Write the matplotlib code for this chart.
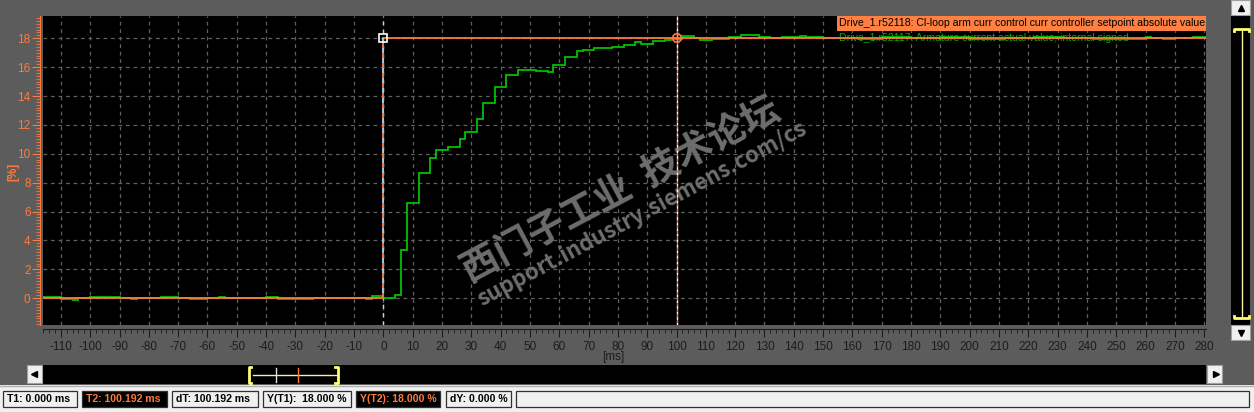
import numpy as np
import matplotlib.pyplot as plt
from matplotlib.patches import Rectangle
from matplotlib.lines import Line2D
from matplotlib.ticker import MultipleLocator

plt.rcParams['font.family'] = ['Liberation Sans', 'DejaVu Sans']
plt.rcParams['axes.unicode_minus'] = False

W, H = 1254, 412
ORANGE = '#ff7a3d'
GREEN = '#00c000'
GRAY = '#5c5c5c'

# r52117 armature current actual value: step edges [ms] and value per step [%]
ist_t = [-116.1, -110, -106, -104, -100, -90, -86, -84, -76, -70, -66, -60, -56, -54,
         -40, -36, -24, -6, -4, 0, 4, 6, 8, 12, 16, 18, 22, 26, 28, 32, 34, 38, 42,
         46, 52, 56, 58, 62, 66, 68, 72, 78, 82, 86, 88, 92, 96, 98, 102, 106, 108,
         112, 118, 122, 128, 132, 136, 142, 144, 150, 156, 162, 170, 180, 190, 200,
         212, 222, 232, 242, 252, 260, 262, 266, 270, 276, 280.5]
ist_v = [0.07, -0.07, -0.14, 0, 0.07, 0, -0.07, 0, 0.07, 0, -0.07, 0, 0.07, 0,
         0.07, -0.07, 0, -0.07, 0.14, 0, 0.21, 3.33, 6.58, 8.66, 9.70, 10.25, 10.46,
         11.04, 11.50, 12.40, 13.51, 14.62, 15.45, 15.80, 15.73, 15.66, 16.14, 16.70,
         17.11, 17.18, 17.30, 17.39, 17.53, 17.74, 17.60, 17.81, 17.88, 17.97, 18.13,
         18.05, 17.86, 17.93, 18.12, 18.23, 18.12, 18.0, 18.07, 18.16, 18.07, 18.0,
         18.05, 17.95, 18.1, 18.0, 18.07, 17.95, 18.05, 18.1, 18.0, 17.95, 17.93,
         18.07, 18.0, 17.93, 18.0, 18.12]

# r52118 current controller setpoint
soll_t = [-116.1, 0, 280.5]
soll_v = [0, 18]

# cursors
t1, t2 = 0.0, 100.192
y1, y2 = 18.0, 18.0

leg_soll = "Drive_1.r52118: Cl-loop arm curr control curr controller setpoint absolute value"
leg_ist = "Drive_1.r52117: Armature current actual value, internal signed"

status_txt = [f"T1: {t1:.3f} ms", f"T2: {t2:.3f} ms", f"dT: {t2 - t1:.3f} ms",
              f"Y(T1):  {y1:.3f} %", f"Y(T2): {y2:.3f} %", f"dY: {y2 - y1:.3f} %", ""]
status_x = [(3, 77), (82, 167), (172, 258), (263, 351), (356, 440), (446, 511), (516, 1249)]
status_dark = [1, 4]


def fx(x):
    return x / W


def fy(y):
    return 1 - y / H


def rect(x0, y0, x1, y1, **kw):
    fig.add_artist(Rectangle((fx(x0), fy(y1)), (x1 - x0) / W, (y1 - y0) / H,
                             transform=fig.transFigure, **kw))


def fline(xs, ys, **kw):
    fig.add_artist(Line2D([fx(v) for v in xs], [fy(v) for v in ys],
                          transform=fig.transFigure, **kw))


fig = plt.figure(figsize=(W / 100, H / 100), dpi=100, facecolor=GRAY)
ax = fig.add_axes([fx(43), fy(324.7), (1205.7 - 43) / W, (324.7 - 16) / H])
ax.set_facecolor('black')

ax.stairs(ist_v, ist_t, baseline=None, color=GREEN, lw=1.3, zorder=4)
ax.stairs(soll_v, soll_t, baseline=None, color=ORANGE, lw=1.3, zorder=5)

# cursor T1
ax.axvline(t1, color='#d0d0d0', ls=(0, (3, 3)), lw=1, zorder=3)
ax.plot([t1, t1], [0, y1], color='#9fd0f0', ls=(3, (3, 3)), lw=1.2, zorder=6)
ax.plot(t1, y1, marker='s', mfc='none', mec='white', ms=6, mew=1.2, zorder=7)
# cursor T2
ax.axvline(t2, color='white', ls=(0, (2, 2)), lw=1, zorder=6)
ax.axvline(t2, color=ORANGE, ls=(2, (2, 2)), lw=1, zorder=6)
ax.plot(t2, y2, marker='8', mfc='none', mec=ORANGE, ms=7, mew=1.2, zorder=7)
ax.plot(t2, y2, marker='+', color=ORANGE, ms=5, mew=1, zorder=7)

ax.set_xlim(-116.1, 280.5)
ax.set_ylim(-1.83, 19.54)
ax.xaxis.set_major_locator(MultipleLocator(10))
ax.xaxis.set_minor_locator(MultipleLocator(2))
ax.yaxis.set_major_locator(MultipleLocator(2))
ax.yaxis.set_minor_locator(MultipleLocator(0.2))
ax.grid(which='major', color='#606060', ls=(0, (3, 3)), lw=0.9, zorder=1)
ax.set_axisbelow(True)

for s in ['top', 'right']:
    ax.spines[s].set_visible(False)
ax.spines['left'].set_color(ORANGE)
ax.spines['left'].set_position(('outward', 2))
ax.spines['bottom'].set_color('#1c1c1c')
ax.spines['bottom'].set_position(('outward', 3))
ax.tick_params(axis='y', which='major', length=6, color=ORANGE, labelcolor=ORANGE,
               labelsize=8.5, pad=1)
ax.tick_params(axis='y', which='minor', length=3, color=ORANGE)
ax.tick_params(axis='x', which='major', length=6, color='#1c1c1c', labelcolor='#1c1c1c',
               labelsize=8.5, pad=3)
ax.tick_params(axis='x', which='minor', length=3, color='#1c1c1c')

fig.text(fx(613), fy(357), "[ms]", ha='center', va='center', fontsize=8.5, color='#1c1c1c')
fig.text(fx(13), fy(172), "[%]", ha='center', va='center', rotation=90, fontsize=8.5,
         color=ORANGE, fontweight='bold')

# legend
rect(837, 16, 1206, 31, facecolor='#ff8040', edgecolor='none', zorder=5)
fig.text(fx(839), fy(23.5), leg_soll, ha='left', va='center', fontsize=7.55, color='black', zorder=6)
ax.text(fx(839), fy(38), leg_ist, transform=fig.transFigure, ha='left', va='center',
        fontsize=7.55, color='#00b000', zorder=2)

# watermark
wm = dict(transform=fig.transFigure, ha='center', va='center', rotation=28,
          rotation_mode='anchor', color='#6e6e6e', fontweight='bold', zorder=3,
          family=['Noto Sans CJK SC', 'DejaVu Sans'])
ax.text(fx(620), fy(190), "西门子工业  技术论坛", fontsize=27, **wm)
ax.text(fx(642), fy(214), "support.industry.siemens.com/cs", fontsize=16, **wm)

# horizontal scrollbar
rect(43, 365, 1206, 384, facecolor='black', edgecolor='none')
rect(27, 365, 42, 383, facecolor='#f0f0f0', edgecolor='#a0a0a0', lw=0.8)
rect(1207, 365, 1222, 383, facecolor='#f0f0f0', edgecolor='#a0a0a0', lw=0.8)
fline([33.5], [374], marker='<', color='black', ms=4, ls='none')
fline([1215.5], [374], marker='>', color='black', ms=4, ls='none')
fline([253, 337], [375, 375], color='#f5efa0', lw=1)
fline([251, 249, 249, 251], [367, 367, 383, 383], color='#ffff70', lw=2)
fline([335, 338, 338, 335], [367, 367, 383, 383], color='#ffff70', lw=2)
fline([276, 276], [368, 382], color='#e0e0e0', lw=1)
fline([298, 298], [368, 382], color=ORANGE, lw=1)

# vertical scrollbar
rect(1231, 15, 1250, 325, facecolor='black', edgecolor='none')
rect(1231, 0, 1250, 15, facecolor='#f0f0f0', edgecolor='#a0a0a0', lw=0.8)
rect(1231, 325, 1250, 340, facecolor='#f0f0f0', edgecolor='#a0a0a0', lw=0.8)
fline([1241], [7.5], marker='^', color='black', ms=4, ls='none')
fline([1241], [332.5], marker='v', color='black', ms=4, ls='none')
fline([1241.5, 1241.5], [30, 317], color='#f5efa0', lw=1)
fline([1234, 1234, 1249, 1249], [31, 29, 29, 31], color='#ffff70', lw=2)
fline([1234, 1234, 1249, 1249], [316, 318, 318, 316], color='#ffff70', lw=2)

# status bar
rect(0, 385, W, H, facecolor='#f0f0f0', edgecolor='none')
fline([0, W], [386, 386], color='#b0b0b0', lw=1)
for i, (a, b) in enumerate(status_x):
    dark = i in status_dark
    rect(a, 391, b, 406.5, facecolor='black' if dark else '#f0f0f0',
         edgecolor='#303030', lw=0.9)
    fig.text(fx(a + 4), fy(399), status_txt[i], ha='left', va='center', fontsize=7.6,
             fontweight='bold', color=ORANGE if dark else 'black')

fig.savefig('out.png', dpi=100, facecolor=GRAY)
